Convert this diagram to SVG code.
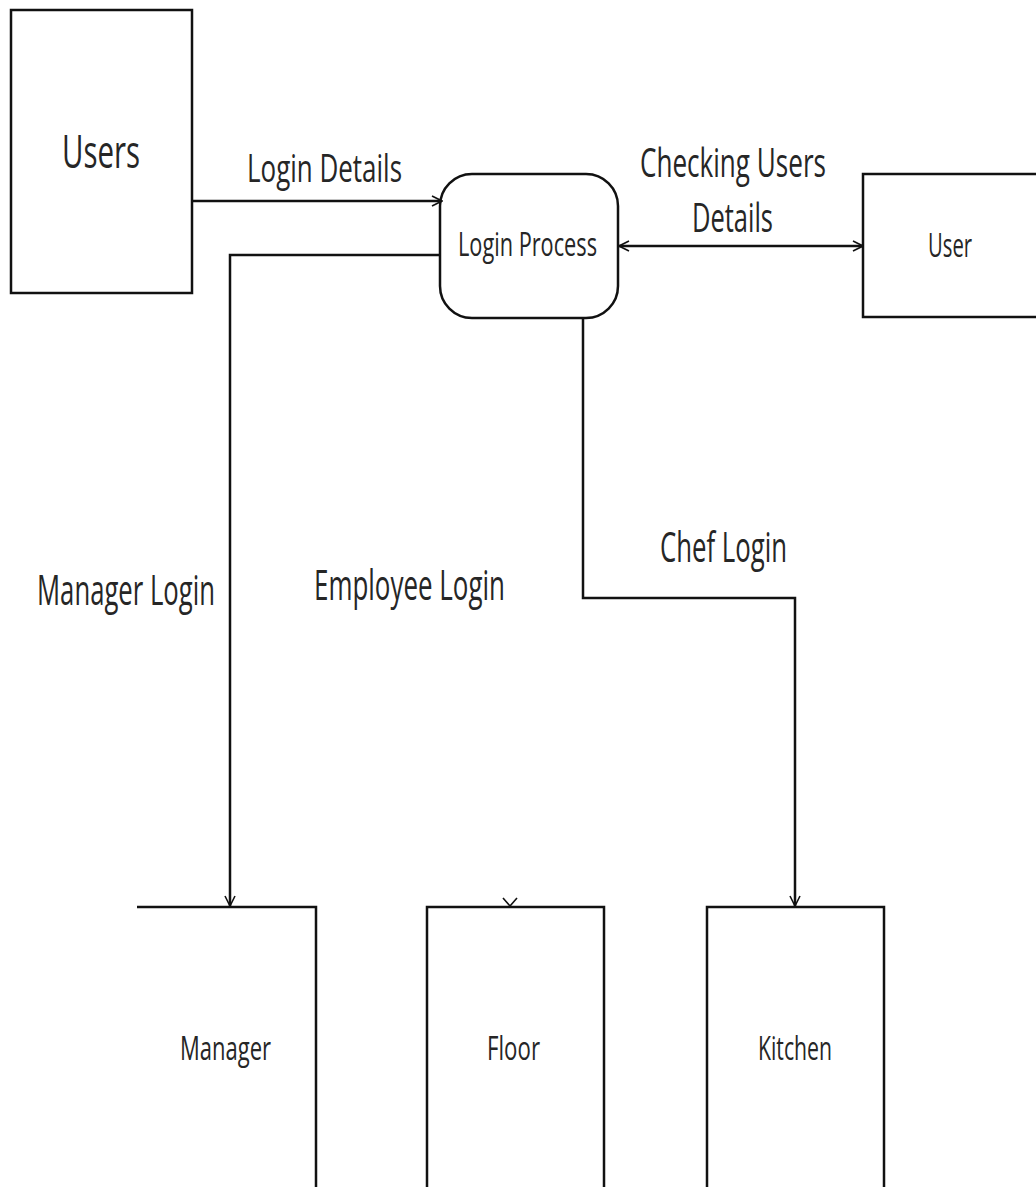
<svg xmlns="http://www.w3.org/2000/svg" width="1036" height="1187" viewBox="0 0 1036 1187">
<style>
.box{fill:#fff;stroke:#111;stroke-width:2.5}
.ln{fill:none;stroke:#111;stroke-width:2.5}
.t{font-family:"Open Sans","Liberation Sans",sans-serif;fill:#262626}
</style>
<defs>
<marker id="ah" viewBox="0 0 12 12" refX="11" refY="6" markerWidth="12" markerHeight="12" markerUnits="userSpaceOnUse" orient="auto-start-reverse">
<path d="M1,1 L11,6 L1,11" fill="none" stroke="#111" stroke-width="1.6"/>
</marker>
</defs>
<rect width="1036" height="1187" fill="#fff"/>
<g id="node-users">
<rect class="box" x="11" y="10" width="181" height="283"/>
<text class="t" x="62" y="168" font-size="46" textLength="78" lengthAdjust="spacingAndGlyphs">Users</text>
</g>
<g id="node-login-process">
<rect class="box" x="440" y="174" width="178" height="144" rx="32" ry="32"/>
<text class="t" x="458" y="256" font-size="32" textLength="139" lengthAdjust="spacingAndGlyphs">Login Process</text>
</g>
<g id="node-user">
<rect class="box" x="863" y="174" width="180" height="143"/>
<text class="t" x="928" y="257" font-size="32" textLength="44" lengthAdjust="spacingAndGlyphs">User</text>
</g>
<g id="node-manager">
<path class="ln" d="M137,907 H316 V1190"/>
<text class="t" x="180" y="1060" font-size="32" textLength="91" lengthAdjust="spacingAndGlyphs">Manager</text>
</g>
<g id="node-floor">
<rect class="box" x="427" y="907" width="177" height="300"/>
<text class="t" x="487" y="1060" font-size="32" textLength="53" lengthAdjust="spacingAndGlyphs">Floor</text>
</g>
<g id="node-kitchen">
<rect class="box" x="707" y="907" width="177" height="300"/>
<text class="t" x="758" y="1060" font-size="32" textLength="74" lengthAdjust="spacingAndGlyphs">Kitchen</text>
</g>
<g id="connectors">
<line class="ln" x1="192" y1="201" x2="442" y2="201" marker-end="url(#ah)"/>
<line class="ln" x1="619" y1="246" x2="863" y2="246" marker-start="url(#ah)" marker-end="url(#ah)"/>
<path class="ln" d="M440,255 H230 V906" marker-end="url(#ah)"/>
<path class="ln" d="M583,318 V598 H795 V906" marker-end="url(#ah)"/>
<path d="M503,898 L510,906 L517,898" fill="none" stroke="#111" stroke-width="1.6"/>
</g>
<g id="labels">
<text class="t" x="247" y="182" font-size="38" textLength="155" lengthAdjust="spacingAndGlyphs">Login Details</text>
<text class="t" x="640" y="177" font-size="40" textLength="186" lengthAdjust="spacingAndGlyphs">Checking Users</text>
<text class="t" x="692" y="232" font-size="40" textLength="81" lengthAdjust="spacingAndGlyphs">Details</text>
<text class="t" x="37" y="605" font-size="42" textLength="178" lengthAdjust="spacingAndGlyphs">Manager Login</text>
<text class="t" x="314" y="600" font-size="42" textLength="191" lengthAdjust="spacingAndGlyphs">Employee Login</text>
<text class="t" x="660" y="562" font-size="42" textLength="127" lengthAdjust="spacingAndGlyphs">Chef Login</text>
</g>
</svg>
